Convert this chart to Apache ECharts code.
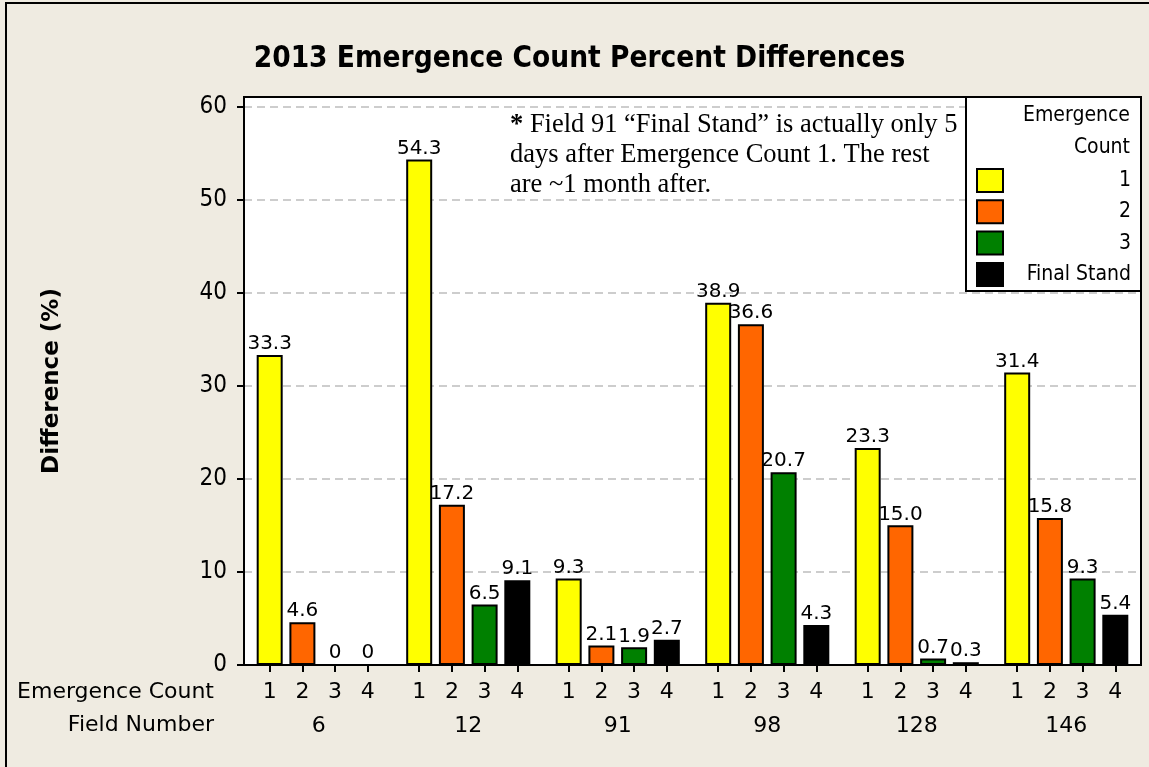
<!DOCTYPE html>
<html><head><meta charset="utf-8">
<script src="https://cdn.jsdelivr.net/npm/echarts@6/dist/echarts.min.js"></script>
<style>html,body{margin:0;padding:0;background:#EFEBE1}#c{width:1149px;height:767px}</style>
</head><body><div id="c"></div>
<script>
// ---- data ----
const fields = ['6', '12', '91', '98', '128', '146'];
const countLabels = ['1', '2', '3', '4'];
const seriesNames = ['1', '2', '3', 'Final Stand'];
const count1 = [33.3, 54.3, 9.3, 38.9, 23.3, 31.4];
const count2 = [4.6, 17.2, 2.1, 36.6, 15.0, 15.8];
const count3 = [0, 6.5, 1.9, 20.7, 0.7, 9.3];
const finalStand = [0, 9.1, 2.7, 4.3, 0.3, 5.4];
const yTicks = [0, 10, 20, 30, 40, 50, 60];
const noteLines = ['Field 91 \u201CFinal Stand\u201D is actually only 5', 'days after Emergence Count 1. The rest', 'are ~1 month after.'];

// ---- style / layout ----
const FONT = 'DejaVu Sans';
const FONT_C = '"DejaVu Sans Condensed", "DejaVu Sans"';
const colors = ['#FFFF00', '#FF6600', '#008000', '#000000'];
const GRID = { left: 244, right: 8, top: 97, bottom: 102 };
const W = 1149;
const BAR_W = 26, BAR_GAP_PX = 6.7;
const catW = (W - GRID.left - GRID.right) / fields.length;
const step = (BAR_W + BAR_GAP_PX) / catW;

const countTickVals = [];
fields.forEach((f, i) => countLabels.forEach((c, k) => countTickVals.push(i + 0.5 + (k - 1.5) * step)));

const allSeries = [count1, count2, count3, finalStand];

const chart = echarts.init(document.getElementById('c'));
chart.setOption({
  backgroundColor: '#EFEBE1',
  animation: false,
  textStyle: { fontFamily: FONT, color: '#000' },
  title: {
    text: '2013 Emergence Count Percent Differences',
    left: 574.5, top: 39, textAlign: 'center',
    textStyle: { fontFamily: FONT_C, fontSize: 29.5, fontWeight: 'bold', color: '#000' }
  },
  grid: {
    left: GRID.left, right: GRID.right, top: GRID.top, bottom: GRID.bottom,
    show: true, backgroundColor: '#fff', borderColor: '#000', borderWidth: 2
  },
  legend: {
    data: seriesNames, orient: 'vertical', left: 966, top: 97,
    padding: [71, 10, 4, 10], itemGap: 6.3, itemWidth: 26, itemHeight: 23,
    backgroundColor: '#fff', borderColor: '#000', borderWidth: 2,
    icon: 'rect', selectedMode: false, z: 20,
    itemStyle: { borderColor: '#000', borderWidth: 2 },
    formatter: n => '{a|' + n + '}',
    textStyle: { rich: { a: { width: 123, align: 'right', fontSize: 21, color: '#000', fontFamily: FONT_C } } }
  },
  xAxis: [
    {
      type: 'category', data: fields, gridIndex: 0, position: 'bottom',
      axisLine: { show: false }, axisTick: { show: false },
      axisLabel: { margin: 50, fontSize: 22, color: '#000', fontFamily: FONT },
      splitLine: { show: false }
    },
    {
      type: 'value', gridIndex: 0, position: 'bottom', min: 0, max: fields.length,
      axisLine: { show: true, onZero: false, lineStyle: { color: '#000', width: 2 } },
      axisTick: { show: true, length: 7, lineStyle: { color: '#000', width: 2 }, customValues: countTickVals },
      axisLabel: {
        customValues: countTickVals, margin: 16, fontSize: 22, color: '#000', fontFamily: FONT,
        formatter: v => {
          const k = Math.round((v - Math.floor(v) - 0.5) / step + 1.5);
          return countLabels[k];
        }
      },
      splitLine: { show: false }
    }
  ],
  yAxis: {
    type: 'value', min: 0, max: 61,
    axisLine: { show: true, lineStyle: { color: '#000', width: 2 } },
    axisTick: { show: true, length: 7, lineStyle: { color: '#000', width: 2 }, customValues: yTicks },
    axisLabel: { customValues: yTicks, fontSize: 24, color: '#000', margin: 17, fontFamily: FONT_C },
    splitLine: { show: true, lineStyle: { color: '#BDBDBD', type: [8, 5], width: 1.5 } },
    name: 'Difference (%)', nameLocation: 'middle', nameGap: 180,
    nameTextStyle: { fontSize: 23, fontWeight: 'bold', color: '#000', fontFamily: FONT }
  },
  series: allSeries.map((d, i) => ({
    name: seriesNames[i], type: 'bar', xAxisIndex: 0, yAxisIndex: 0,
    data: d, barWidth: BAR_W, barGap: (BAR_GAP_PX / BAR_W * 100).toFixed(1) + '%',
    itemStyle: { color: colors[i], borderColor: '#000', borderWidth: 2 },
    label: {
      show: true, position: 'top', distance: 1, fontSize: 20, color: '#000', fontFamily: FONT,
      formatter: p => (p.value === 0 ? '0' : p.value.toFixed(1))
    }
  })),
  graphic: [
    { type: 'polyline', shape: { points: [[6, 767], [6, 3], [1149, 3]] }, style: { stroke: '#000', lineWidth: 2, fill: null }, z: 50 },
    {
      type: 'text', x: 510, y: 110, z: 50,
      style: {
        text: '{b|*} ' + noteLines.join('\n'),
        font: '26.5px "Liberation Serif"', fill: '#000', lineHeight: 30,
        rich: { b: { fontWeight: 'bold', fontFamily: 'Liberation Serif', fontSize: 26.5, lineHeight: 30 } }
      }
    },
    { type: 'text', x: 1130, y: 116, z: 60, style: { text: 'Emergence', font: '21px "DejaVu Sans Condensed", "DejaVu Sans"', fill: '#000', align: 'right', verticalAlign: 'middle' } },
    { type: 'text', x: 1130, y: 148, z: 60, style: { text: 'Count', font: '21px "DejaVu Sans Condensed", "DejaVu Sans"', fill: '#000', align: 'right', verticalAlign: 'middle' } },
    { type: 'text', x: 214, y: 692, z: 50, style: { text: 'Emergence Count', font: '22px "DejaVu Sans"', fill: '#000', align: 'right', verticalAlign: 'middle' } },
    { type: 'text', x: 214, y: 725, z: 50, style: { text: 'Field Number', font: '22px "DejaVu Sans"', fill: '#000', align: 'right', verticalAlign: 'middle' } }
  ]
});
</script></body></html>
